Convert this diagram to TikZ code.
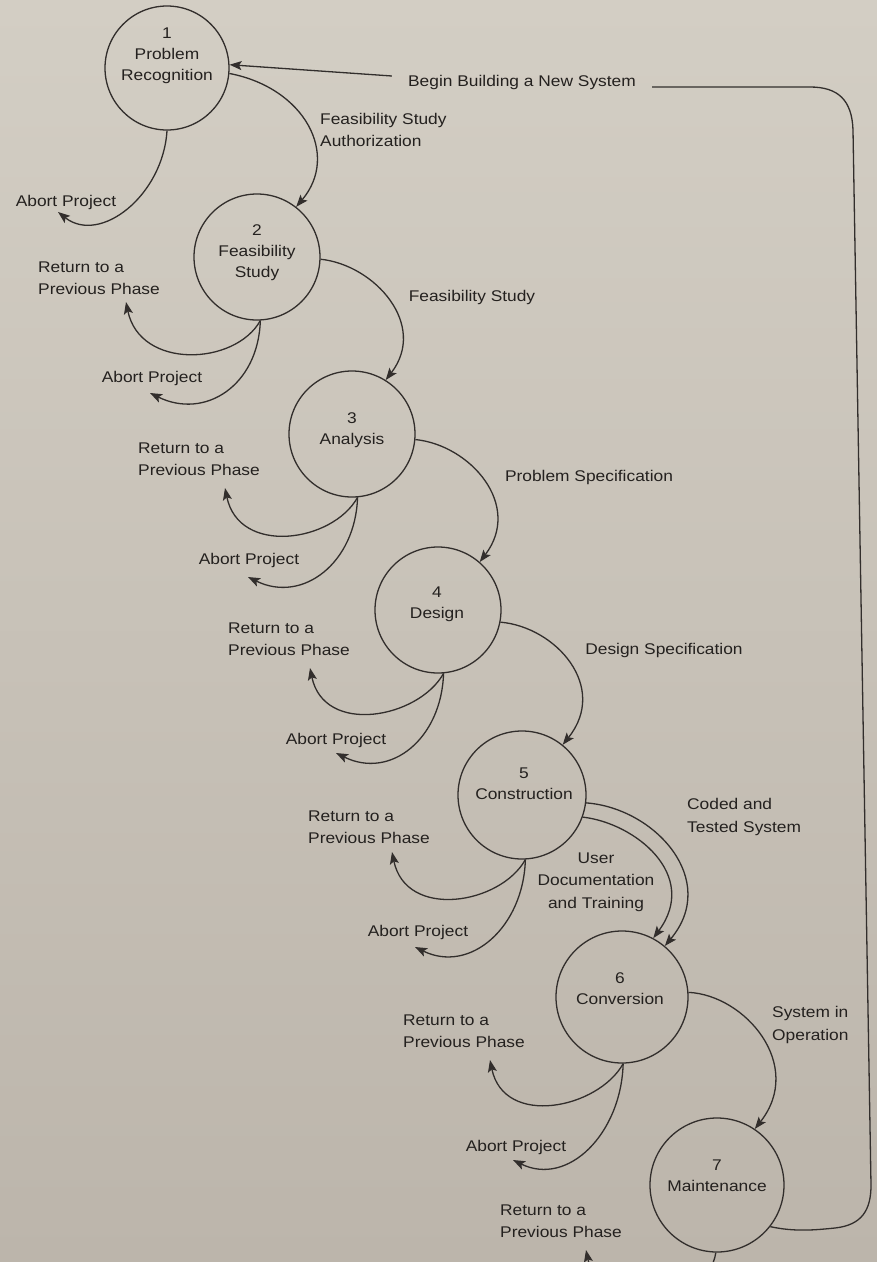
\documentclass[tikz,border=0pt]{standalone}
\usepackage{fontspec}
\setmainfont{Liberation Sans}[FakeStretch=1.12]
\usetikzlibrary{arrows.meta}
\definecolor{papertop}{RGB}{211,206,196}
\definecolor{paperbot}{RGB}{188,181,171}
\definecolor{ink}{RGB}{50,46,44}
\definecolor{txt}{RGB}{36,33,31}
\begin{document}
\begin{tikzpicture}[x=1pt,y=-1pt,
  phase/.style={circle,draw=ink,line width=1.3pt,inner sep=0pt},
  ctext/.style={text=txt,align=center,inner sep=0pt,font=\fontsize{15.5}{21}\selectfont},
  lbl/.style={text=txt,inner sep=2pt,font=\fontsize{15.5}{22.5}\selectfont},
  flowline/.style={draw=ink,line width=1.3pt},
  flow/.style={flowline,-{Stealth[length=12pt,width=9pt,inset=2.5pt]}}]
\useasboundingbox (0,0) rectangle (877,1262);
\shade[top color=papertop,bottom color=paperbot] (0,0) rectangle (877,1262);
\clip (0,0) rectangle (877,1262);

% phases
\node[phase,minimum size=124pt] (c1) at (167,68) {};
\node[phase,minimum size=126pt] (c2) at (257,257) {};
\node[phase,minimum size=126pt] (c3) at (352,434) {};
\node[phase,minimum size=126pt] (c4) at (438,610) {};
\node[phase,minimum size=128pt] (c5) at (522,795) {};
\node[phase,minimum size=132pt] (c6) at (622,997) {};
\node[phase,minimum size=134pt] (c7) at (717,1185) {};

\node[ctext] (t1) at (167,56) {1\\Problem\\Recognition};
\node[ctext] (t2) at (257,253) {2\\Feasibility\\Study};
\node[ctext] (t3) at (352,430) {3\\Analysis};
\node[ctext] (t4) at (437,604) {4\\Design};
\node[ctext] (t5) at (524,784) {5\\Construction};
\node[ctext] (t6) at (620,989) {6\\Conversion};
\node[ctext] (t7) at (717,1176) {7\\Maintenance};

% flow labels
\node[lbl,inner xsep=16pt] (begin) at (522,82) {Begin Building a New System};
\node[lbl,anchor=west,align=left] (fsa) at (318,130) {Feasibility Study\\Authorization};
\node[lbl] (fs) at (472,297) {Feasibility Study};
\node[lbl] (ps) at (589,477) {Problem Specification};
\node[lbl] (ds) at (664,650) {Design Specification};
\node[lbl,anchor=west,align=left] (cts) at (685,817) {Coded and\\Tested System};
\node[lbl,align=center] (udt) at (596,882) {User\\Documentation\\and Training};
\node[lbl,anchor=west,align=left] (sio) at (770,1025) {System in\\Operation};

% return labels
\node[lbl,anchor=west,align=left] (rl2) at (36,278) {Return to a\\Previous Phase};
\node[lbl,anchor=west,align=left] (rl3) at (136,459) {Return to a\\Previous Phase};
\node[lbl,anchor=west,align=left] (rl4) at (226,639) {Return to a\\Previous Phase};
\node[lbl,anchor=west,align=left] (rl5) at (306,827) {Return to a\\Previous Phase};
\node[lbl,anchor=west,align=left] (rl6) at (401,1031) {Return to a\\Previous Phase};
\node[lbl,anchor=west,align=left] (rl7) at (498,1221) {Return to a\\Previous Phase};

% abort labels
\node[lbl] (al1) at (66,202) {Abort Project};
\node[lbl] (al2) at (152,378) {Abort Project};
\node[lbl] (al3) at (249,560) {Abort Project};
\node[lbl] (al4) at (336,740) {Abort Project};
\node[lbl] (al5) at (418,932) {Abort Project};
\node[lbl] (al6) at (516,1147) {Abort Project};

% free arrow ends
\coordinate (a1) at (58,212);
\coordinate (a2) at (150,393);
\coordinate (a3) at (248,577);
\coordinate (a4) at (336,753);
\coordinate (a5) at (415,947);
\coordinate (a6) at (513,1160);
\coordinate (r2) at (126,302);
\coordinate (r3) at (225,488);
\coordinate (r4) at (310,668);
\coordinate (r5) at (392,852);
\coordinate (r6) at (490,1060);
\coordinate (r7) at (586,1250);

% begin building a new system loop
\draw[flowline] (c7.-38) .. controls (795,1232) and (815,1230) .. (835,1228)
  .. controls (862,1225) and (871,1210) .. (871,1185) -- (853,130)
  .. controls (852,100) and (838,87) .. (810,87) -- ([yshift=-5pt]begin.east);
\draw[flow] ([yshift=6pt]begin.west) -- (c1.3);

% forward flows
\draw[flow] (c1.-5) .. controls (305,88) and (340,155) .. (c2.52);
\draw[flow] (c2.-2) .. controls (375,265) and (428,325) .. (c3.58);
\draw[flow] (c3.-5) .. controls (470,445) and (523,505) .. (c4.49);
\draw[flow] (c4.-11) .. controls (556,627) and (609,687) .. (c5.51);
\draw[flow] (c5.-7) .. controls (655,808) and (720,880) .. (c6.50);
\draw[flow] (c5.-20) .. controls (635,823) and (700,875) .. (c6.62);
\draw[flow] (c6.4) .. controls (745,995) and (805,1065) .. (c7.56);

% aborts
\draw[flow] (c1.-90) .. controls +(-4,65) and +(42,33) .. (a1);
\draw[flow] (c2.-87) .. controls +(-2,65) and +(55,27) .. (a2);
\draw[flow] (c3.-85) .. controls +(-2,65) and +(55,27) .. (a3);
\draw[flow] (c4.-85) .. controls +(-2,65) and +(55,27) .. (a4);
\draw[flow] (c5.-87) .. controls +(-2,68) and +(55,27) .. (a5);
\draw[flow] (c6.-89) .. controls +(-2,70) and +(55,27) .. (a6);

% returns
\draw[flow] (c2.-87) .. controls +(-25,45) and +(14,68) .. (r2);
\draw[flow] (c3.-85) .. controls +(-25,45) and +(14,68) .. (r3);
\draw[flow] (c4.-85) .. controls +(-25,45) and +(14,68) .. (r4);
\draw[flow] (c5.-87) .. controls +(-25,45) and +(14,68) .. (r5);
\draw[flow] (c6.-89) .. controls +(-25,45) and +(14,68) .. (r6);
\draw[flow] (c7.-91) .. controls +(-8,55) and +(14,68) .. (r7);
\end{tikzpicture}
\end{document}
